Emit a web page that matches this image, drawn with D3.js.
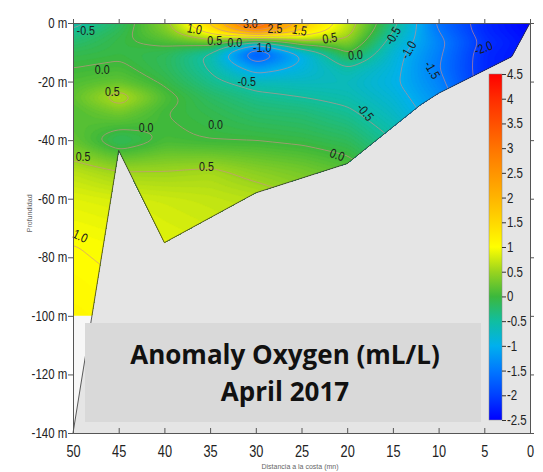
<!DOCTYPE html>
<html>
<head>
<meta charset="utf-8">
<script src="https://cdn.jsdelivr.net/npm/d3@7"></script>
<style>
  body { margin: 0; background: #fff; }
  svg text { font-family: "Liberation Sans", Arial, sans-serif; }
</style>
</head>
<body>
<svg id="chart"></svg>
<script>
// stations (distance to coast, nm) and depths (m)
let stations = [50, 45, 40, 35, 30, 25, 20, 15, 10, 5, 0];
let depths = [0, -3, -6, -10, -15, -20, -25, -30, -40, -50, -60, -75, -100];
// oxygen anomaly (mL/L), one row per depth
let anomaly = [
    [-0.6, -0.2, 0.4, 1.6, 3.5, 1.7, 0.7, -0.4, -1.6, -2.2, -2.5],
    [-0.4, -0.1, 0.3, 1.1, 2.2, 1.3, 0.6, -0.55, -1.5, -2.2, -2.45],
    [-0.25, -0.05, 0.1, 0.3, -0.6, 0.4, 0.4, -0.7, -1.4, -2.1, -2.4],
    [-0.1, -0.05, -0.15, -0.6, -2.0, -1.0, 0.0, -0.85, -1.45, -2.2, -2.4],
    [0.0, 0.05, -0.15, -0.55, -1.2, -0.9, -0.55, -0.9, -1.5, -2.2, -2.4],
    [0.1, 0.2, -0.05, -0.4, -0.65, -0.7, -0.7, -0.95, -1.4, -2.2, -2.4],
    [0.2, 0.7, 0.1, -0.2, -0.4, -0.5, -0.6, -0.85, -1.3, -2.0, -2.3],
    [0.1, 0.3, 0.0, -0.1, -0.25, -0.3, -0.45, -0.75, -1.2, -1.8, -2.2],
    [0.2, -0.2, 0.05, 0.0, 0.0, -0.05, -0.15, -0.5, -0.9, -1.5, -2.0],
    [0.65, 0.5, 0.5, 0.55, 0.4, 0.3, 0.15, -0.2, -0.5, -1.0, -1.5],
    [0.85, 0.8, 0.75, 0.7, 0.65, 0.5, 0.35, 0.0, -0.3, -0.6, -1.0],
    [1.0, 0.95, 0.85, 0.8, 0.75, 0.65, 0.5, 0.3, 0.0, -0.3, -0.6],
    [1.1, 1.05, 1.0, 0.9, 0.8, 0.7, 0.6, 0.5, 0.3, 0.0, -0.3]
];
// sea floor
let bottomDist = [50, 45, 40, 30, 20, 12, 10, 2, 0];
let bottomDepth = [-140, -43.5, -75, -58, -48, -28, -24, -11.5, 0];
// contour labels: value, distance, depth, angle
let labelText = ["-0.5", "0.0", "0.5", "0.0", "0.0", "0.5", "0.5", "1.0", "1.0", "0.5", "0.0", "-1.0", "3.0", "2.5", "1.5", "0.5", "0.0", "-0.5", "-0.5", "0.0", "-0.5", "-1.0", "-1.5", "-2.0"];
let labelDist = [48.6, 46.8, 45.7, 42.0, 34.4, 48.9, 35.4, 49.2, 36.7, 34.5, 32.3, 29.3, 30.6, 27.9, 25.2, 21.9, 19.1, 31.0, 18.0, 21.1, 15.0, 13.3, 10.7, 5.1];
let labelDepth = [-2.7, -16, -23.5, -35.5, -34.5, -45.7, -49, -72.7, -2, -5.8, -6.8, -8.5, -0.3, -1.7, -2.4, -5.1, -10.9, -20.1, -30.4, -45, -4.4, -9.2, -16, -8.5];
let labelAngle = [0, 0, 0, 0, 0, 0, 0, 25, 10, 0, 0, 0, 0, 0, 10, -10, -5, 0, 50, 20, -60, -60, 60, -20];
// colour bar
let barTicks = [4.5, 4, 3.5, 3, 2.5, 2, 1.5, 1, 0.5, 0, -0.5, -1, -1.5, -2, -2.5];
let colorStops = [-2.5, -2, -1.5, -1, -0.5, 0, 0.5, 1, 1.5, 2, 2.5, 3, 3.5, 4, 4.5];
let colorValues = ["#0000ff", "#0040ff", "#0078ff", "#00b0ee", "#10bea0", "#3cb83c", "#9ad41e", "#ffff00", "#ffd800", "#ffb400", "#ff9400", "#ff7400", "#ff5000", "#ff2c00", "#ff0000"];
let xTicks = [50, 45, 40, 35, 30, 25, 20, 15, 10, 5, 0];
let yTicks = [0, -20, -40, -60, -80, -100, -120, -140];

let width = 543, height = 472;
let narrow = "scale(0.82,1)";
let svg = d3.select("#chart").attr("width", width).attr("height", height);

let x = d3.scaleLinear().domain([50, 0]).range([73, 530]);
let y = d3.scaleLinear().domain([0, -140]).range([23, 433]);
let color = d3.scaleLinear().domain(colorStops).range(colorValues).clamp(true);

// plot background
svg.append("rect")
    .attr("x", x(50)).attr("y", y(0))
    .attr("width", x(0) - x(50)).attr("height", y(-140) - y(0))
    .attr("fill", "#e5e5e5");

// bilinear lookup in the station grid
function lookup(d, z) {
    let i = 0;
    while (i < stations.length - 2 && d < stations[i + 1]) i++;
    let j = 0;
    while (j < depths.length - 2 && z < depths[j + 1]) j++;
    let tx = (stations[i] - d) / (stations[i] - stations[i + 1]);
    let ty = (depths[j] - z) / (depths[j] - depths[j + 1]);
    tx = Math.max(0, Math.min(1, tx));
    ty = Math.max(0, Math.min(1, ty));
    let a = anomaly[j][i], b = anomaly[j][i + 1];
    let c = anomaly[j + 1][i], e = anomaly[j + 1][i + 1];
    return (a * (1 - tx) + b * tx) * (1 - ty) + (c * (1 - tx) + e * tx) * ty;
}

// fine grid in pixel space
let step = 2;
let x0 = x(50) - 6, y0 = y(0) - 6;
let nx = Math.ceil((x(0) + 6 - x0) / step), ny = Math.ceil((y(-100) + 6 - y0) / step);
let grid = new Array(nx * ny);
for (let r = 0; r < ny; r++) {
    for (let c = 0; c < nx; c++) {
        grid[r * nx + c] = lookup(x.invert(x0 + c * step), y.invert(y0 + r * step));
    }
}
// smooth a little (box blur)
function blur(values, rad, passes) {
    let tmp = values.slice();
    for (let p = 0; p < passes; p++) {
        for (let r = 0; r < ny; r++) for (let c = 0; c < nx; c++) {
            let s = 0, n = 0;
            for (let k = -rad; k <= rad; k++) { let cc = c + k; if (cc >= 0 && cc < nx) { s += values[r * nx + cc]; n++; } }
            tmp[r * nx + c] = s / n;
        }
        for (let r = 0; r < ny; r++) for (let c = 0; c < nx; c++) {
            let s = 0, n = 0;
            for (let k = -rad; k <= rad; k++) { let rr = r + k; if (rr >= 0 && rr < ny) { s += tmp[rr * nx + c]; n++; } }
            values[r * nx + c] = s / n;
        }
    }
}
blur(grid, 2, 2);

let project = d3.geoPath(d3.geoTransform({
    point: function (px, py) { this.stream.point(x0 + px * step, y0 + py * step); }
}));

// clip to water section
let dataPoly = [[50, 0], [0, 0], [2, -11.5], [10, -24], [12, -28], [20, -48], [30, -58], [40, -75], [45, -43.5], [47.93, -100], [50, -100]];
svg.append("clipPath").attr("id", "water")
    .append("path")
    .attr("d", d3.line().x(d => x(d[0])).y(d => y(d[1]))(dataPoly) + "Z");

let field = svg.append("g").attr("clip-path", "url(#water)");
let bands = d3.range(-2.6, 4.6, 0.04);
field.selectAll("path.band")
    .data(d3.contours().size([nx, ny]).thresholds(bands)(grid))
    .enter().append("path")
    .attr("class", "band")
    .attr("d", project)
    .attr("fill", d => color(d.value + 0.02))
    .attr("stroke", d => color(d.value + 0.02))
    .attr("stroke-width", 0.4);

field.selectAll("path.iso")
    .data(d3.contours().size([nx, ny]).thresholds(d3.range(-2.0, 4.0, 0.5))(grid))
    .enter().append("path")
    .attr("class", "iso")
    .attr("d", project)
    .attr("fill", "none")
    .attr("stroke", "#d08c8c")
    .attr("stroke-opacity", 0.8)
    .attr("stroke-width", 0.8);

// white corner under the last valid depth at the outer station
svg.append("path")
    .attr("d", d3.line().x(d => x(d[0])).y(d => y(d[1]))([[50, -100], [47.93, -100], [50, -140]]) + "Z")
    .attr("fill", "#f7f7f7");

// sea floor line
svg.append("path")
    .attr("d", d3.line().x((d, i) => x(d)).y((d, i) => y(bottomDepth[i]))(bottomDist))
    .attr("fill", "none")
    .attr("stroke", "#333")
    .attr("stroke-width", 0.8);

// contour labels
svg.selectAll("text.lab")
    .data(labelText)
    .enter().append("text")
    .attr("class", "lab")
    .attr("transform", (d, i) => `translate(${x(labelDist[i])},${y(labelDepth[i])}) rotate(${labelAngle[i]}) ${narrow}`)
    .attr("text-anchor", "middle")
    .attr("dy", "0.35em")
    .attr("font-size", 13)
    .attr("fill", "#1a1a1a")
    .text(d => d);

// axes
let axisColor = "#555";
let axLeft = svg.append("g").attr("transform", `translate(${x(50)},0)`)
    .call(d3.axisLeft(y).tickValues(yTicks).tickSize(5).tickFormat(d => d + " m"));
let axRight = svg.append("g").attr("transform", `translate(${x(0)},0)`)
    .call(d3.axisRight(y).tickValues(yTicks).tickSize(4).tickFormat(""));
let axTop = svg.append("g").attr("transform", `translate(0,${y(0)})`)
    .call(d3.axisTop(x).tickValues(xTicks).tickSize(4).tickFormat(""));
let axBottom = svg.append("g").attr("transform", `translate(0,${y(-140)})`)
    .call(d3.axisBottom(x).tickValues(xTicks).tickSize(-5).tickPadding(12).tickFormat(d3.format("d")));
[axLeft, axRight, axTop, axBottom].forEach(g => {
    g.select(".domain").attr("stroke", axisColor);
    g.selectAll(".tick line").attr("stroke", axisColor);
    g.selectAll("text").attr("fill", "#222");
    g.attr("font-family", null);
});
axLeft.selectAll("text").attr("font-size", 14).attr("x", -7).attr("transform", narrow);
axBottom.selectAll("text").attr("font-size", 17).attr("y", 12).attr("transform", "scale(0.75,1)");

svg.append("text")
    .attr("transform", `translate(32,${y(-65)}) rotate(-90)`)
    .attr("text-anchor", "middle")
    .attr("font-size", 7)
    .attr("fill", "#666")
    .text("Profundidad");
svg.append("text")
    .attr("x", 300).attr("y", 469)
    .attr("text-anchor", "middle")
    .attr("font-size", 7)
    .attr("fill", "#666")
    .text("Distancia a la costa (mn)");

// colour bar
let barY = d3.scaleLinear().domain([-2.5, 4.5]).range([420, 74]);
let grad = svg.append("defs").append("linearGradient")
    .attr("id", "cbar").attr("x1", 0).attr("y1", 1).attr("x2", 0).attr("y2", 0);
grad.selectAll("stop")
    .data(colorStops)
    .enter().append("stop")
    .attr("offset", d => (d + 2.5) / 7)
    .attr("stop-color", d => color(d));
svg.append("rect")
    .attr("x", 489).attr("y", barY(4.5))
    .attr("width", 13).attr("height", barY(-2.5) - barY(4.5))
    .attr("fill", "url(#cbar)")
    .attr("stroke", "#888").attr("stroke-width", 0.5);
let bar = svg.append("g").attr("transform", "translate(502,0)")
    .call(d3.axisRight(barY).tickValues(barTicks).tickSize(4).tickPadding(1).tickFormat(d => d));
bar.select(".domain").remove();
bar.attr("font-family", null);
bar.selectAll(".tick line").attr("stroke", "#333");
bar.selectAll("text").attr("font-size", 14).attr("fill", "#222").attr("x", 6).attr("transform", narrow);

// title box
svg.append("rect")
    .attr("x", 85).attr("y", 323)
    .attr("width", 396).attr("height", 99)
    .attr("fill", "#d9d9d9");
let titleLines = ["Anomaly Oxygen (mL/L)", "April 2017"];
svg.selectAll("text.title")
    .data(titleLines)
    .enter().append("text")
    .attr("class", "title")
    .attr("x", 285)
    .attr("y", (d, i) => 364 + i * 37)
    .attr("text-anchor", "middle")
    .attr("font-size", 26)
    .attr("font-weight", "bold")
    .attr("fill", "#111")
    .style("font-family", "'Open Sans', sans-serif")
    .text(d => d);
</script>
</body>
</html>
